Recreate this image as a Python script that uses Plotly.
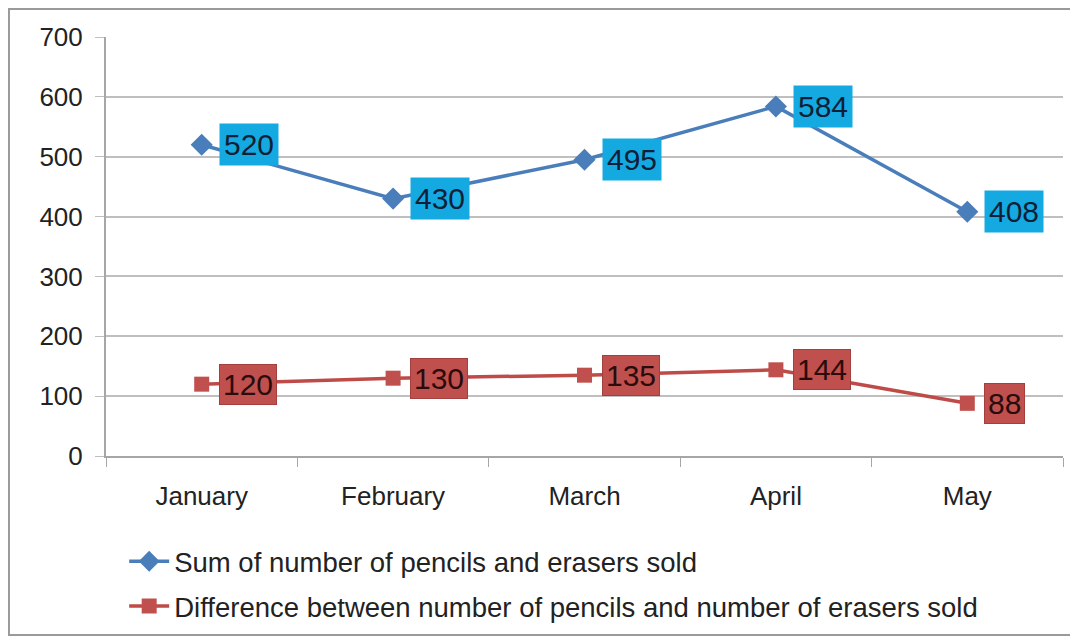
import plotly.graph_objects as go

months = ["January", "February", "March", "April", "May"]
sum_sold = [520, 430, 495, 584, 408]
diff_sold = [120, 130, 135, 144, 88]
y_ticks = [0, 100, 200, 300, 400, 500, 600, 700]

FONT = "Liberation Sans, Arial, sans-serif"

fig = go.Figure()

fig.add_trace(go.Scatter(
    x=months, y=sum_sold, mode="lines+markers",
    name="Sum of number of pencils and erasers sold",
    line=dict(color="#4a7ebb", width=3.5),
    marker=dict(symbol="diamond", size=17, color="#4a7ebb"),
    legendgroup="a",
))
fig.add_trace(go.Scatter(
    x=months, y=diff_sold, mode="lines+markers",
    name="Difference between number of pencils and number of erasers sold",
    line=dict(color="#be4b48", width=3.5),
    marker=dict(symbol="square", size=15, color="#c0504d"),
    legendgroup="b",
))

# data labels in filled boxes, right of each point
for m, v in zip(months, sum_sold):
    fig.add_annotation(x=m, y=v, text=str(v), showarrow=False,
                       xanchor="left", xshift=17,
                       font=dict(family=FONT, size=30, color="#0f1f38"),
                       bgcolor="#14a9e1", borderpad=4)
for m, v in zip(months, diff_sold):
    fig.add_annotation(x=m, y=v, text=str(v), showarrow=False,
                       xanchor="left", xshift=17,
                       font=dict(family=FONT, size=30, color="#2a0c0c"),
                       bgcolor="#c0504d", bordercolor="#a33f3c", borderwidth=1,
                       borderpad=3)

# outer chart border
fig.add_shape(type="rect", xref="paper", yref="paper",
              x0=-0.1014, x1=1.0094, y0=-0.427, y1=1.067,
              line=dict(color="#9a9a9a", width=2))

# page body has an 8px margin, so the figure is 8px smaller than the window
fig.update_layout(
    width=1070, height=630,
    margin=dict(l=98, r=15, t=29, b=182, autoexpand=False),
    paper_bgcolor="white", plot_bgcolor="white",
    font=dict(family=FONT, size=26, color="#222222"),
    showlegend=True,
    legend=dict(x=0.019, y=-0.193, xanchor="left", yanchor="top",
                traceorder="grouped", tracegroupgap=6,
                bgcolor="rgba(0,0,0,0)",
                font=dict(size=27.5), itemwidth=40),
    xaxis=dict(
        range=[-0.5, 4.5],
        showgrid=False, showline=True, linecolor="#a6a6a6", linewidth=2,
        ticks="outside", ticklen=9, tickcolor="#a6a6a6", tickson="boundaries",
        ticklabelstandoff=16,
    ),
    yaxis=dict(
        range=[0, 700], tickvals=y_ticks,
        showgrid=True, gridcolor="#bfbfbf", gridwidth=2,
        showline=True, linecolor="#a6a6a6", linewidth=2,
        ticks="outside", ticklen=9, tickcolor="#bfbfbf",
        ticklabelstandoff=7, zeroline=False,
    ),
)

fig.write_html("out.html")
